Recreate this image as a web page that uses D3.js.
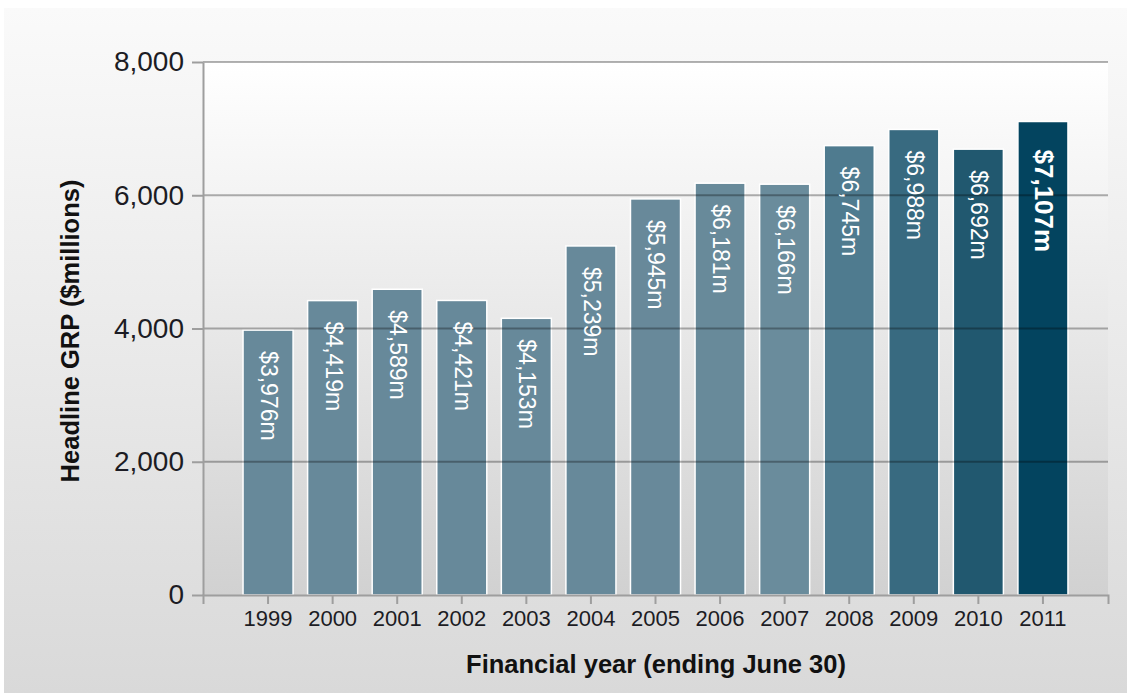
<!DOCTYPE html>
<html>
<head>
<meta charset="utf-8">
<script src="https://cdn.jsdelivr.net/npm/d3@7"></script>
<style>
  html, body { margin: 0; padding: 0; background: #ffffff; }
  svg { display: block; font-family: Arial, "Liberation Sans", sans-serif; }
</style>
</head>
<body>
<svg id="chart" width="1127" height="693"></svg>
<script>
// Headline GRP by financial year
const years = ["1999", "2000", "2001", "2002", "2003", "2004", "2005", "2006", "2007", "2008", "2009", "2010", "2011"];
const grp = [3976, 4419, 4589, 4421, 4153, 5239, 5945, 6181, 6166, 6745, 6988, 6692, 7107];
const barColors = ["#67899a", "#67899a", "#67899a", "#67899a", "#67899a", "#67899a", "#68899a", "#688a9a", "#6a8c9c", "#4f7b8f", "#386a80", "#21586f", "#03445f"];
const yTicks = [0, 2000, 4000, 6000, 8000];
const yTitle = "Headline GRP ($millions)";
const xTitle = "Financial year (ending June 30)";

const svg = d3.select("#chart");
const W = 1127, H = 693;
const plot = { left: 203, right: 1108, top: 62, bottom: 595 };

// gradients
const defs = svg.append("defs");
const panelGrad = defs.append("linearGradient").attr("id", "panelGrad")
  .attr("x1", 0).attr("y1", 0).attr("x2", 0).attr("y2", 1);
panelGrad.append("stop").attr("offset", "0%").attr("stop-color", "#fafafa");
panelGrad.append("stop").attr("offset", "100%").attr("stop-color", "#d9d9d9");
const plotGrad = defs.append("linearGradient").attr("id", "plotGrad")
  .attr("x1", 0).attr("y1", 0).attr("x2", 0).attr("y2", 1);
plotGrad.append("stop").attr("offset", "0%").attr("stop-color", "#ffffff");
plotGrad.append("stop").attr("offset", "100%").attr("stop-color", "#d1d1d1");

svg.append("rect").attr("x", 4).attr("y", 8).attr("width", W - 4).attr("height", H - 8)
  .attr("fill", "url(#panelGrad)");
svg.append("rect").attr("x", plot.left).attr("y", plot.top)
  .attr("width", plot.right - plot.left).attr("height", plot.bottom - plot.top)
  .attr("fill", "url(#plotGrad)");

// scales
const x = d3.scaleBand().domain(years).range([plot.left, plot.right])
  .paddingInner(0.225).paddingOuter(0.62);
const y = d3.scaleLinear().domain([0, 8000]).range([plot.bottom, plot.top]);

// bars
const data = years.map((yr, i) => ({ year: yr, value: grp[i], color: barColors[i], last: i === years.length - 1 }));
svg.append("g").selectAll("rect").data(data).join("rect")
  .attr("x", d => x(d.year))
  .attr("y", d => y(d.value))
  .attr("width", x.bandwidth())
  .attr("height", d => y(0) - y(d.value))
  .attr("fill", d => d.color)
  .attr("stroke", "#ffffff")
  .attr("stroke-width", 1.5);

// horizontal gridlines, laid over the bars
svg.append("g").selectAll("line").data(yTicks.filter(t => t > 0)).join("line")
  .attr("x1", plot.left).attr("x2", plot.right)
  .attr("y1", d => y(d)).attr("y2", d => y(d))
  .attr("stroke", "rgba(0,0,0,0.3)")
  .attr("stroke-width", 2);

// value labels, rotated inside bars
const fmt = d3.format(",");
svg.append("g").selectAll("text").data(data).join("text")
  .attr("transform", d => `translate(${x(d.year) + x.bandwidth() / 2 + 1},${y(d.value) + (d.last ? 28 : 21)}) rotate(90)`)
  .attr("dy", "0.35em")
  .attr("text-anchor", "start")
  .attr("fill", "#ffffff")
  .attr("font-size", d => d.last ? 26 : 23)
  .attr("font-weight", d => d.last ? "bold" : "normal")
  .text(d => "$" + fmt(d.value) + "m");

// axes
const xAxis = svg.append("g").attr("transform", `translate(0,${plot.bottom})`)
  .call(d3.axisBottom(x).tickSize(9).tickSizeOuter(9).tickPadding(6));
const yAxis = svg.append("g").attr("transform", `translate(${plot.left},0)`)
  .call(d3.axisLeft(y).tickValues(yTicks).tickFormat(fmt).tickSize(11).tickSizeOuter(0).tickPadding(8));

[xAxis, yAxis].forEach(g => {
  g.selectAll("path, line").attr("stroke", "#9e9e9e").attr("stroke-width", 2);
  g.selectAll("text").attr("fill", "#1c1c24").attr("font-family", "Arial, 'Liberation Sans', sans-serif");
});
xAxis.selectAll("text").attr("font-size", 22);
yAxis.selectAll("text").attr("font-size", 28);

// axis titles
svg.append("text")
  .attr("transform", `translate(79,${(177 + 485) / 2}) rotate(-90)`)
  .attr("text-anchor", "middle")
  .attr("font-size", 25.5)
  .attr("font-weight", "bold")
  .attr("fill", "#111111")
  .text(yTitle);
svg.append("text")
  .attr("x", 656).attr("y", 673)
  .attr("text-anchor", "middle")
  .attr("font-size", 25.5)
  .attr("font-weight", "bold")
  .attr("fill", "#111111")
  .text(xTitle);
</script>
</body>
</html>
